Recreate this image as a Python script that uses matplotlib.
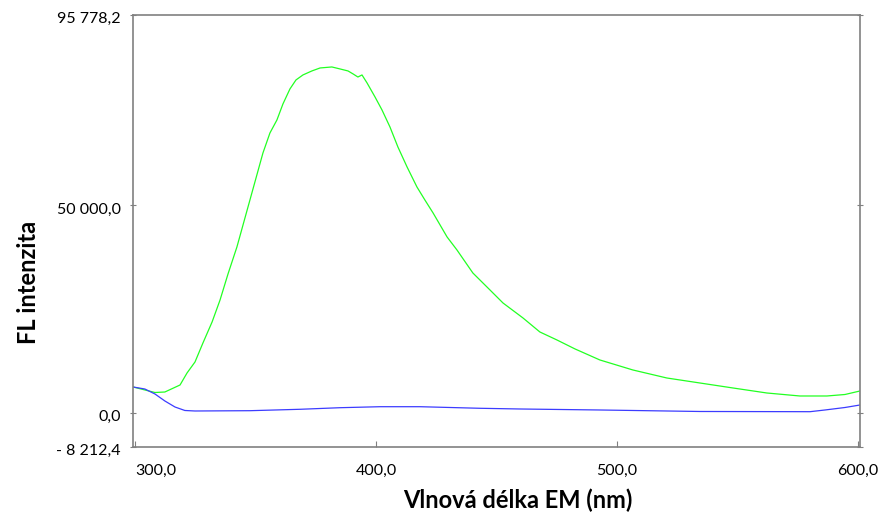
import matplotlib

matplotlib.use("Agg")
import matplotlib.pyplot as plt
from matplotlib.transforms import ScaledTranslation

plt.rcParams["font.family"] = ["Lato", "DejaVu Sans"]

# Emisní spektra: vlnová délka (nm) a FL intenzita
GREEN_WL = [299.2, 304.1, 308.3, 312.4, 318.7, 321.6, 324.9, 328.2, 332.0, 335.3,
            338.6, 342.3, 347.7, 353.1, 356.0, 358.9, 361.4, 364.3, 366.8, 369.7,
            373.4, 376.8, 381.7, 385.1, 388.4, 390.5, 392.5, 394.2, 396.3, 399.6,
            402.5, 405.8, 409.1, 412.9, 417.0, 420.3, 423.7, 429.5, 433.6, 440.2,
            447.3, 452.7, 461.0, 468.0, 475.1, 482.6, 492.9, 506.6, 520.7, 534.4,
            548.1, 562.2, 575.9, 587.1, 594.6, 600.8]
GREEN_FL = [6190, 5470, 4860, 4980, 6670, 9560, 12200, 16780, 21840, 27130,
            33390, 39890, 51200, 62520, 67330, 70460, 74320, 77930, 80090, 81300,
            82260, 82980, 83220, 82740, 82260, 81540, 80800, 81300, 79370, 76000,
            72870, 68780, 63960, 59150, 54330, 51200, 48070, 42300, 39170, 33630,
            29540, 26410, 22800, 19430, 17500, 15340, 12690, 10280, 8350, 7150,
            5950, 4740, 4020, 4020, 4380, 5220]

BLUE_WL = [299.2, 304.1, 308.3, 312.4, 316.6, 320.7, 324.9, 347.7, 368.5, 385.1,
           401.7, 418.3, 443.2, 459.8, 492.9, 534.4, 580.1, 586.3, 594.6, 600.8]
BLUE_FL = [6190, 5700, 4500, 2820, 1370, 530, 410, 480, 820, 1200,
           1440, 1440, 1060, 890, 650, 290, 240, 650, 1250, 1850]

X_TICKS = [300.0, 400.0, 500.0, 600.0]
Y_TICKS = [-8212.4, 0.0, 50000.0, 95778.2]
X_LIM = (299.0, 601.0)


def cz_num(v: float) -> str:
    """Formát 50 000,0 / - 8 212,4."""
    s = f"{abs(v):,.1f}".replace(",", " ").replace(".", ",")
    return f"- {s}" if v < 0 else s


fig = plt.figure(figsize=(8.82, 5.19), dpi=100)
ax = fig.add_axes([0.1503, 0.1391, 0.8252, 0.8324])

ax.plot(GREEN_WL, GREEN_FL, color="#22ff22", lw=0.9)
ax.plot(BLUE_WL, BLUE_FL, color="#3c3cff", lw=0.9)

ax.set_xlim(*X_LIM)
ax.set_ylim(Y_TICKS[0], Y_TICKS[-1])
ax.set_xticks(X_TICKS, [cz_num(v) for v in X_TICKS])
ax.set_yticks(Y_TICKS, [cz_num(v) for v in Y_TICKS])
ax.get_xticklabels()[0].set_horizontalalignment("left")

for sp in ax.spines.values():
    sp.set_color("#808080")
    sp.set_linewidth(1.2)
ax.tick_params(axis="y", direction="inout", left=True, right=True, length=5,
               color="#808080", labelsize=11.5, pad=6)
ax.tick_params(axis="x", direction="in", bottom=True, top=False, length=4,
               color="#808080", labelsize=11.5, pad=12)

# popisky osy y mírně pod značkami, jako v originále
shift = ScaledTranslation(0, -3 / 100, fig.dpi_scale_trans)
for lbl in ax.get_yticklabels():
    lbl.set_transform(lbl.get_transform() + shift)

fig.text(28 / 882, 1 - 282 / 519, "FL intenzita", rotation=90, ha="center",
         va="center", fontsize=17, fontweight="bold")
fig.text(518 / 882, 1 - 500 / 519, "Vlnová délka EM (nm)", ha="center",
         va="center", fontsize=17, fontweight="bold")

fig.savefig("out.png", dpi=100)
